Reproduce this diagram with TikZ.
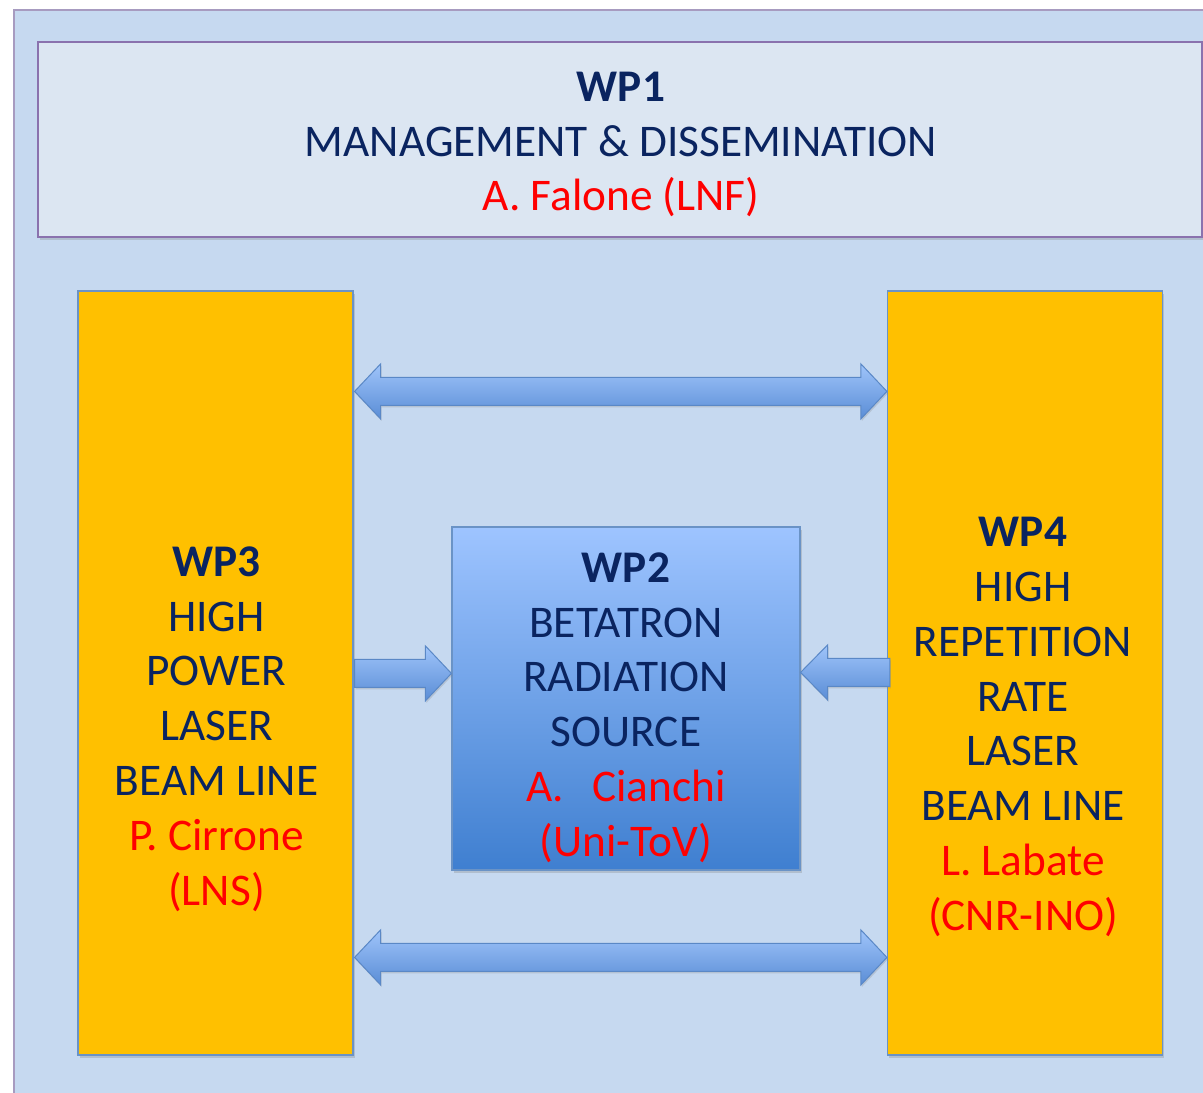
\documentclass[tikz,border=0pt]{standalone}
\usepackage{fontspec}
\setmainfont{Carlito}
\usetikzlibrary{calc,shadows}
\definecolor{navy}{HTML}{0A2460}
\definecolor{redtxt}{HTML}{FF0000}
\definecolor{framebg}{HTML}{C6D9F0}
\definecolor{frameln}{HTML}{A79BC0}
\definecolor{wpbg}{HTML}{DCE6F2}
\definecolor{wpln}{HTML}{8A72AE}
\definecolor{gold}{HTML}{FFC000}
\definecolor{boxln}{HTML}{6A93C6}
\definecolor{wp2top}{HTML}{9EC4FF}
\definecolor{wp2bot}{HTML}{3F7FD0}
\definecolor{arrtop}{HTML}{9FC4FA}
\definecolor{arrbot}{HTML}{5A8DD6}
\definecolor{arrln}{HTML}{5A88C6}
\newcommand\dblblock[2]{%
  \path[blockarrow] let \p1=(#1), \p2=(#2) in
   (\x1,\y1) -- (\x1+26pt,\y1+27.5pt) -- (\x1+26pt,\y1+14pt) -- (\x2-26pt,\y1+14pt)
   -- (\x2-26pt,\y1+27.5pt) -- (\x2,\y1) -- (\x2-26pt,\y1-27.5pt) -- (\x2-26pt,\y1-14pt)
   -- (\x1+26pt,\y1-14pt) -- (\x1+26pt,\y1-27.5pt) -- cycle;}
\newcommand\sglblock[3]{%
  \path[blockarrow] let \p1=(#1), \p2=(#2) in
   (\x1,\y1+14pt) -- (\x2-#3pt,\y1+14pt) -- (\x2-#3pt,\y1+27.5pt) -- (\x2,\y1)
   -- (\x2-#3pt,\y1-27.5pt) -- (\x2-#3pt,\y1-14pt) -- (\x1,\y1-14pt) -- cycle;}
\begin{document}
\begin{tikzpicture}[x=1pt,y=-1pt,
  txt/.style={align=center,text=navy,font=\fontsize{45.3}{54.8}\selectfont,inner sep=0pt},
  shad/.style={drop shadow={shadow xshift=1.5pt,shadow yshift=-2.5pt,opacity=0.3}},
  wpbox/.style={draw=boxln,line width=1.2pt,fill=gold,shad,inner sep=0pt,minimum width=275pt,minimum height=764pt},
  blockarrow/.style={top color=arrtop,bottom color=arrbot,draw=arrln,line width=1pt,
     drop shadow={shadow xshift=1pt,shadow yshift=-2pt,opacity=0.25}},
  nm/.style={text=redtxt}]
\useasboundingbox (0,0) rectangle (1203,1093);
\clip (0,0) rectangle (1203,1093);
\fill[white] (0,0) rectangle (1203,1093);
\draw[fill=framebg,draw=frameln,line width=1.5pt] (14,10) rectangle (1230,1120);
% boxes
\node[draw=wpln,line width=1.5pt,fill=wpbg,shad,inner sep=0pt,minimum width=1164pt,minimum height=195pt] (wp1) at (620,139.5) {};
\node[wpbox] (wp3) at (215.5,673) {};
\node[wpbox] (wp4) at (1025,673) {};
\node[draw=boxln,line width=1.2pt,top color=wp2top,bottom color=wp2bot,shad,inner sep=0pt,minimum width=348pt,minimum height=343pt] (wp2) at (626,698.5) {};
% arrows
\coordinate (ta) at ($(wp3.north east)+(1,101)$);
\coordinate (tb) at ($(wp4.north west)+(0,101)$);
\coordinate (ba) at ($(wp3.north east)+(1,667)$);
\coordinate (bb) at ($(wp4.north west)+(0,667)$);
\coordinate (la) at ($(wp3.north east)+(1,383)$);
\coordinate (lb) at ($(wp2.west)+(0,-24.5)$);
\coordinate (ra) at ($(wp4.north west)+(3,382)$);
\coordinate (rb) at ($(wp2.east)+(0,-25.5)$);
\dblblock{ta}{tb}
\dblblock{ba}{bb}
\sglblock{la}{lb}{26}
\sglblock{ra}{rb}{-27}
% texts
\node[txt] (t1) at ($(wp1.center)+(1,5)$) {\textbf{WP1}\\MANAGEMENT \& DISSEMINATION\\\textcolor{redtxt}{A. Falone (LNF)}};
\node[txt] (t3) at ($(wp3.center)+(1,56)$) {\textbf{WP3}\\HIGH\\POWER\\LASER\\BEAM LINE\\\textcolor{redtxt}{P. Cirrone}\\\textcolor{redtxt}{(LNS)}};
\node[txt] (t4) at ($(wp4.center)+(-2,54)$) {\textbf{WP4}\\HIGH\\REPETITION\\RATE\\LASER\\BEAM LINE\\\textcolor{redtxt}{L. Labate}\\\textcolor{redtxt}{(CNR-INO)}};
\node[txt] (t2) at ($(wp2.center)+(0,9)$) {\textbf{WP2}\\BETATRON\\RADIATION\\SOURCE\\\textcolor{redtxt}{A.\hspace{28pt}Cianchi}\\\textcolor{redtxt}{(Uni-ToV)}};
\end{tikzpicture}
\end{document}
